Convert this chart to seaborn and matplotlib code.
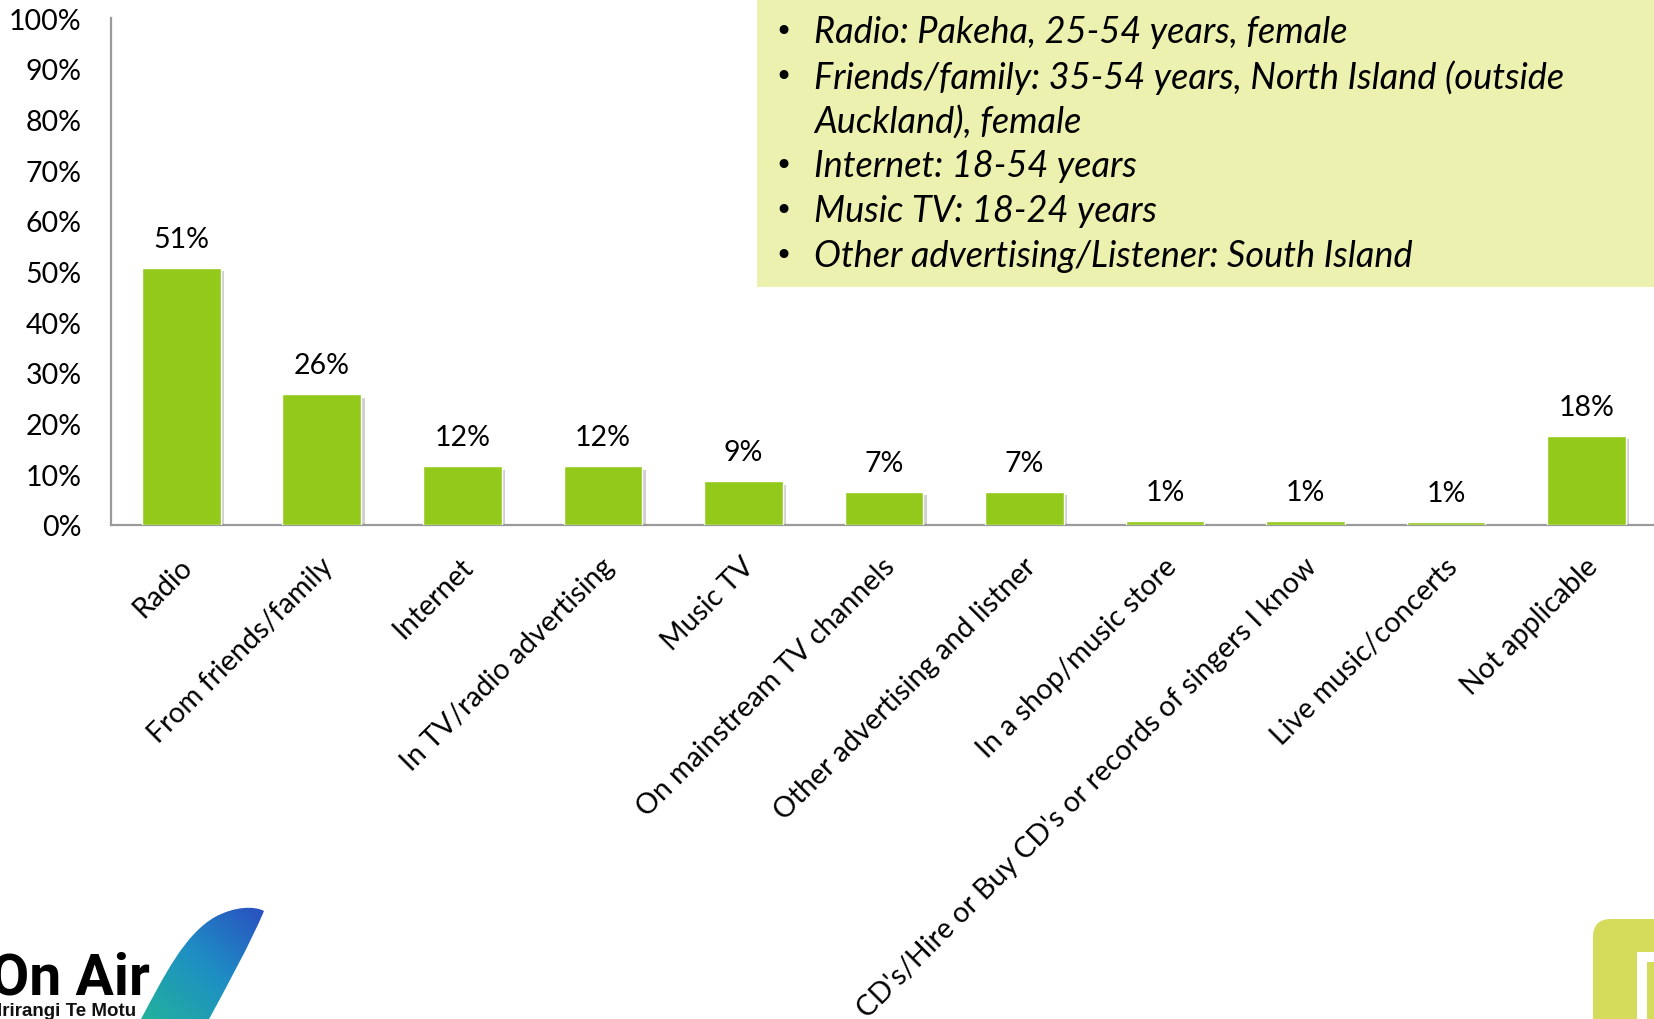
import numpy as np
import pandas as pd
import matplotlib
matplotlib.use("Agg")
import matplotlib.pyplot as plt
import matplotlib.patheffects as pe
from matplotlib.path import Path
from matplotlib.patches import PathPatch, FancyBboxPatch, Rectangle
from matplotlib.colors import LinearSegmentedColormap
import matplotlib.transforms as mtransforms
import seaborn as sns

# ---- data -------------------------------------------------------------
categories = [
    "Radio",
    "From friends/family",
    "Internet",
    "In TV/radio advertising",
    "Music TV",
    "On mainstream TV channels",
    "Other advertising and listner",
    "In a shop/music store",
    "CD's/Hire or Buy CD's or records of singers I know",
    "Live music/concerts",
    "Not applicable",
]
share_pct = [50.7, 25.8, 11.6, 11.6, 8.6, 6.6, 6.6, 0.8, 0.8, 0.55, 17.6]

y_ticks = [0, 10, 20, 30, 40, 50, 60, 70, 80, 90, 100]
y_tick_labels = [f"{t}%" for t in y_ticks]

profile_notes = [
    "Radio: Pakeha, 25-54 years, female",
    "Friends/family: 35-54 years, North Island (outside\nAuckland), female",
    "Internet: 18-54 years",
    "Music TV: 18-24 years",
    "Other advertising/Listener: South Island",
]

# ---- style ------------------------------------------------------------
sns.set_theme(style="white")
plt.rcParams["font.family"] = ["Lato", "DejaVu Sans"]

BAR_GREEN = "#92C91A"
NOTE_BG = "#EDF1AF"
AXIS_GREY = "#9A9A9A"

W, H = 1654, 1020
fig = plt.figure(figsize=(W / 100, H / 100), dpi=100)
fig.patch.set_facecolor("white")

# axes spans x 111..1654 px and y 19..526 px (from the top)
ax = fig.add_axes([111 / W, 1 - 526 / H, 1 - 111 / W, (526 - 19) / H])

df = pd.DataFrame({"category": categories, "share": share_pct})
sns.barplot(data=df, x="category", y="share", color=BAR_GREEN,
            saturation=1, width=0.56, edgecolor="white", linewidth=1.0,
            ax=ax, zorder=3)

for bar in ax.patches:
    bar.set_path_effects([
        pe.SimplePatchShadow(offset=(2.5, -2.5), shadow_rgbFace="#7A7A7A",
                             alpha=0.35),
        pe.Normal(),
    ])

ax.set_xlim(-0.5, 10.48)
ax.set_ylim(0, 100)
ax.set_yticks(y_ticks)
ax.set_yticklabels(y_tick_labels)
ax.set_xlabel("")
ax.set_ylabel("")

for side in ("top", "right"):
    ax.spines[side].set_visible(False)
for side in ("left", "bottom"):
    ax.spines[side].set_color(AXIS_GREY)
    ax.spines[side].set_linewidth(1.6)

ax.tick_params(axis="y", length=0, pad=21, labelsize=20.5, labelcolor="black")
ax.tick_params(axis="x", length=0, pad=20, labelsize=20.5, labelcolor="black")
shift = mtransforms.ScaledTranslation(-2 / 100, 0, fig.dpi_scale_trans)
for lab in ax.get_xticklabels():
    lab.set_rotation(45)
    lab.set_ha("right")
    lab.set_va("top")
    lab.set_rotation_mode("anchor")
    lab.set_transform(lab.get_transform() + shift)

# value labels above each bar
for i, v in enumerate(share_pct):
    ax.annotate(f"{v:.0f}%", xy=(i, v), xytext=(0, 21),
                textcoords="offset pixels", ha="center", va="baseline",
                fontsize=20.5, color="black", zorder=4)

# ---- overlay for the note panel and logos (pixel coords, y downward) --
ov = fig.add_axes([0, 0, 1, 1], zorder=5)
ov.set_xlim(0, W)
ov.set_ylim(H, 0)
ov.axis("off")
ov.patch.set_alpha(0)

ov.add_patch(Rectangle((757, -5), W - 757 + 5, 293, facecolor=NOTE_BG,
                       edgecolor="none"))
y = 32.5
line_step = 44.8
for note in profile_notes:
    ov.text(783, y, "\u2022", fontsize=22, ha="center", va="center",
            color="black", family=["DejaVu Sans"])
    for part in note.split("\n"):
        ov.text(814, y, part, fontsize=26, style="italic", ha="left",
                va="center", color="black")
        y += line_step

# "On Air" logo, bottom left
ov.text(-10, 995, "On Air", fontsize=41, fontweight="bold", color="black",
        ha="left", va="baseline",
        family=["Liberation Sans Narrow", "Roboto", "DejaVu Sans"])
ov.text(-3, 1016, "Irirangi Te Motu", fontsize=13.5, fontweight="bold",
        color="#111111", ha="left", va="baseline",
        family=["Liberation Sans", "DejaVu Sans"])

verts = [(140, 1022), (165, 975), (185, 935), (215, 918),
         (235, 907), (255, 907), (264, 912),
         (250, 945), (228, 985), (208, 1022), (140, 1022)]
codes = [Path.MOVETO, Path.CURVE4, Path.CURVE4, Path.CURVE4,
         Path.CURVE4, Path.CURVE4, Path.CURVE4,
         Path.CURVE4, Path.CURVE4, Path.CURVE4, Path.CLOSEPOLY]
swoosh = PathPatch(Path(verts, codes), facecolor="none", edgecolor="none")
ov.add_patch(swoosh)
gx, gy = np.meshgrid(np.linspace(0, 1, 200), np.linspace(0, 1, 200))
grad = (gx + gy) / 2
cmap = LinearSegmentedColormap.from_list("sw", ["#22B39A", "#1E8FC4", "#2A4CC0"])
img = ov.imshow(grad, extent=(138, 266, 1022, 905), cmap=cmap,
                origin="lower", aspect="auto", zorder=2)
img.set_clip_path(swoosh)

# badge, bottom right
ov.add_patch(FancyBboxPatch((1593, 920), 90, 120,
                            boxstyle="round,pad=0,rounding_size=18",
                            facecolor="#D5DC5C", edgecolor="none"))
ov.add_patch(Rectangle((1637, 953), 20, 70, facecolor="white",
                       edgecolor="none"))
ov.add_patch(Rectangle((1647, 963), 10, 60, facecolor="#D5DC5C",
                       edgecolor="none"))

ov.set_xlim(0, W)
ov.set_ylim(H, 0)

fig.savefig("out.png", dpi=100)
